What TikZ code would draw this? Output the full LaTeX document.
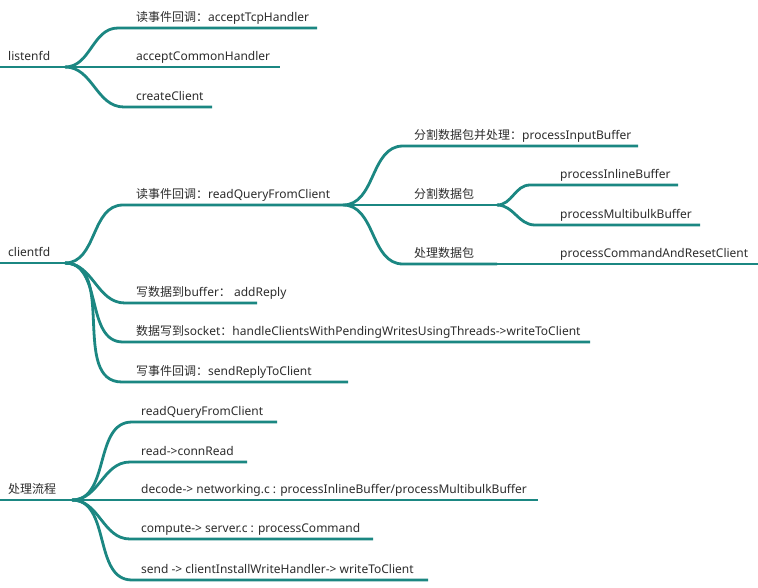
\documentclass[tikz,border=0pt]{standalone}
\usepackage{fontspec}
\setmainfont{Noto Sans}
\newfontfamily\cjk{Noto Sans CJK SC}
\definecolor{branchc}{RGB}{27,135,130}
\definecolor{txtc}{RGB}{45,45,45}
\begin{document}
\begin{tikzpicture}[x=1pt,y=-1pt,
  br/.style={draw=branchc,line width=2.8pt},
  lbl/.style={anchor=base west,inner sep=0pt,text=txtc,font=\fontsize{12}{14}\selectfont}]
\useasboundingbox[fill=white] (0,0) rectangle (758,587);

% ---------- listenfd ----------
\coordinate (l0) at (0,67);
\coordinate (lp) at (65,67);
\node[lbl] (ltxt) at (8,60) {listenfd};
\coordinate (la1) at (118,28);  \coordinate (la2) at (317,28);
\coordinate (lb2) at (280,67);
\coordinate (lc1) at (124,107); \coordinate (lc2) at (212,107);
\node[lbl] (la) at (136,21) {{\cjk 读事件回调：}acceptTcpHandler};
\node[lbl] (lb) at (136,60) {acceptCommonHandler};
\node[lbl] (lc) at (136,100) {createClient};
\draw[br] (l0) -- (lp);
\draw[br] (lp) to[out=0,in=180] (la1) -- (la2);
\draw[br] (lp) -- (lb2);
\draw[br] (lp) to[out=0,in=180] (lc1) -- (lc2);

% ---------- clientfd ----------
\coordinate (c0) at (0,263);
\coordinate (cp) at (65,263);
\node[lbl] (ctxt) at (8,256) {clientfd};
\coordinate (ca1) at (123,205); \coordinate (cap) at (343,205);
\node[lbl] (ca) at (136,198) {{\cjk 读事件回调：}readQueryFromClient};
\draw[br] (c0) -- (cp);
\draw[br] (cp) to[out=0,in=180] (ca1) -- (cap);

% children of readQueryFromClient
\coordinate (r11) at (403,146); \coordinate (r12) at (638,146);
\node[lbl] (r1) at (414,139) {{\cjk 分割数据包并处理：}processInputBuffer};
\coordinate (r2p) at (497,205);
\node[lbl] (r2) at (414,198) {{\cjk 分割数据包}};
\coordinate (r31) at (403,264); \coordinate (r3p) at (497,264);
\node[lbl] (r3) at (414,257) {{\cjk 处理数据包}};
\draw[br] (cap) to[out=0,in=180] (r11) -- (r12);
\draw[br] (cap) -- (r2p);
\draw[br] (cap) to[out=0,in=180] (r31) -- (r3p);

% children of 分割数据包
\coordinate (s11) at (530,185); \coordinate (s12) at (678,185);
\coordinate (s21) at (535,225); \coordinate (s22) at (700,225);
\node[lbl] (s1) at (560,178) {processInlineBuffer};
\node[lbl] (s2) at (560,218) {processMultibulkBuffer};
\draw[br] (r2p) to[out=0,in=180] (s11) -- (s12);
\draw[br] (r2p) to[out=0,in=180] (s21) -- (s22);

% child of 处理数据包
\coordinate (t2) at (758,264);
\node[lbl] (t1) at (560,257) {processCommandAndResetClient};
\draw[br] (r3p) -- (t2);

% other clientfd children
\coordinate (cb1) at (125,303); \coordinate (cb2) at (257,303);
\coordinate (cc1) at (123,342); \coordinate (cc2) at (590,342);
\coordinate (cd1) at (122,382); \coordinate (cd2) at (348,382);
\node[lbl] (cb) at (136,296) {{\cjk 写数据到}buffer{\cjk ：} addReply};
\node[lbl] (cc) at (136,335) {{\cjk 数据写到}socket{\cjk ：}handleClientsWithPendingWritesUsingThreads->writeToClient};
\node[lbl] (cd) at (136,375) {{\cjk 写事件回调：}sendReplyToClient};
\draw[br] (cp) to[out=0,in=180] (cb1) -- (cb2);
\draw[br] (cp) to[out=0,in=180] (cc1) -- (cc2);
\draw[br] (cp) to[out=0,in=180] (cd1) -- (cd2);

% ---------- 处理流程 ----------
\coordinate (p0) at (0,500);
\coordinate (pp) at (72,500);
\node[lbl] (ptxt) at (8,493) {{\cjk 处理流程}};
\coordinate (pa1) at (132,422); \coordinate (pa2) at (277,422);
\coordinate (pb1) at (130,462); \coordinate (pb2) at (247,462);
\coordinate (pc2) at (538,500);
\coordinate (pd1) at (130,539); \coordinate (pd2) at (373,539);
\coordinate (pe1) at (132,580); \coordinate (pe2) at (428,580);
\node[lbl] (pa) at (141,415) {readQueryFromClient};
\node[lbl] (pb) at (141,455) {read->connRead};
\node[lbl] (pc) at (141,493) {decode-> networking.c : processInlineBuffer/processMultibulkBuffer};
\node[lbl] (pd) at (141,532) {compute-> server.c : processCommand};
\node[lbl] (pe) at (141,573) {send -> clientInstallWriteHandler-> writeToClient};
\draw[br] (p0) -- (pp);
\draw[br] (pp) to[out=0,in=180] (pa1) -- (pa2);
\draw[br] (pp) to[out=0,in=180] (pb1) -- (pb2);
\draw[br] (pp) -- (pc2);
\draw[br] (pp) to[out=0,in=180] (pd1) -- (pd2);
\draw[br] (pp) to[out=0,in=180] (pe1) -- (pe2);
\end{tikzpicture}
\end{document}
